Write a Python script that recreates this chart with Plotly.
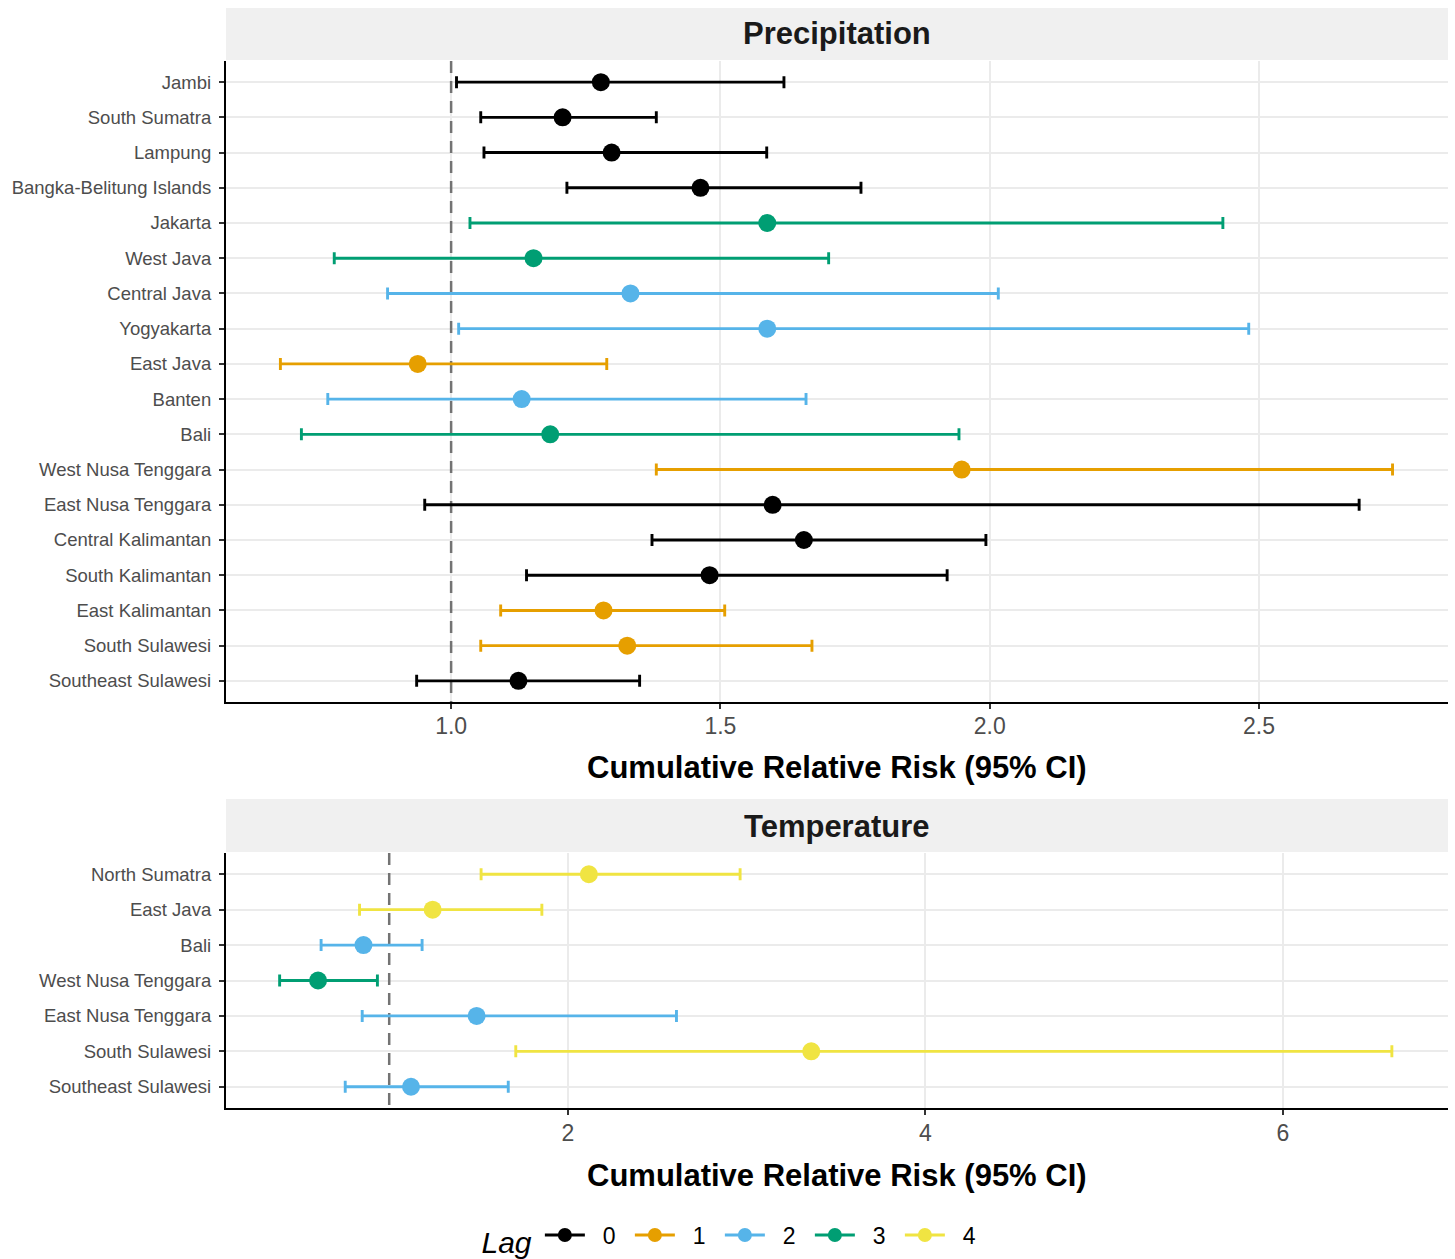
import plotly.graph_objects as go

# ---------------- data ----------------
prec_regions = ["Jambi", "South Sumatra", "Lampung", "Bangka-Belitung Islands", "Jakarta",
                "West Java", "Central Java", "Yogyakarta", "East Java", "Banten", "Bali",
                "West Nusa Tenggara", "East Nusa Tenggara", "Central Kalimantan",
                "South Kalimantan", "East Kalimantan", "South Sulawesi", "Southeast Sulawesi"]
prec_rr = [1.278, 1.207, 1.298, 1.463, 1.587, 1.153, 1.333, 1.587, 0.938, 1.131, 1.184,
           1.948, 1.597, 1.655, 1.480, 1.283, 1.327, 1.125]
prec_low = [1.010, 1.055, 1.061, 1.215, 1.035, 0.783, 0.882, 1.014, 0.683, 0.771, 0.722,
            1.381, 0.951, 1.373, 1.140, 1.092, 1.055, 0.936]
prec_high = [1.618, 1.381, 1.586, 1.761, 2.433, 1.701, 2.016, 2.481, 1.289, 1.659, 1.943,
             2.748, 2.686, 1.993, 1.921, 1.508, 1.670, 1.350]
prec_lag = [0, 0, 0, 0, 3, 3, 2, 2, 1, 2, 3, 1, 0, 0, 0, 1, 1, 0]

temp_regions = ["North Sumatra", "East Java", "Bali", "West Nusa Tenggara",
                "East Nusa Tenggara", "South Sulawesi", "Southeast Sulawesi"]
temp_rr = [2.117, 1.243, 0.856, 0.602, 1.489, 3.361, 1.122]
temp_low = [1.514, 0.834, 0.619, 0.387, 0.849, 1.708, 0.754]
temp_high = [2.963, 1.854, 1.184, 0.934, 2.607, 6.609, 1.666]
temp_lag = [4, 4, 2, 3, 2, 4, 2]

lags = [0, 1, 2, 3, 4]
lag_colors = ["#000000", "#E69F00", "#56B4E9", "#009E73", "#F0E442"]

prec_ticks = [1.0, 1.5, 2.0, 2.5]
temp_ticks = [2, 4, 6]

# ---------------- figure ----------------
W, H = 1455, 1259
ML, MR = 226, 7
FONT = "Liberation Sans, Arial, Helvetica, sans-serif"


def py(px):
    return 1 - px / H


def pxx(px):
    return (px - ML) / (W - ML - MR)


fig = go.Figure()


def add_panel(regions, rr, low, high, lag, xa, ya):
    for lg, col in zip(lags, lag_colors):
        idx = [i for i, v in enumerate(lag) if v == lg]
        if not idx:
            continue
        fig.add_trace(go.Scatter(
            x=[rr[i] for i in idx],
            y=[regions[i] for i in idx],
            mode="markers",
            marker=dict(color=col, size=18, line=dict(width=0)),
            error_x=dict(type="data", symmetric=False,
                         array=[high[i] - rr[i] for i in idx],
                         arrayminus=[rr[i] - low[i] for i in idx],
                         color=col, thickness=2.9, width=6),
            xaxis=xa, yaxis=ya, showlegend=False, hoverinfo="x+y",
        ))


add_panel(prec_regions, prec_rr, prec_low, prec_high, prec_lag, "x", "y")
add_panel(temp_regions, temp_rr, temp_low, temp_high, temp_lag, "x2", "y2")

# legend entries
for lg, col in zip(lags, lag_colors):
    fig.add_trace(go.Scatter(
        x=[None], y=[None], mode="lines+markers", name="\u00a0\u00a0" + str(lg),
        line=dict(color=col, width=2.9), marker=dict(color=col, size=14),
        xaxis="x", yaxis="y", showlegend=True,
    ))

axis_common = dict(
    showline=True, linecolor="black", linewidth=2.2,
    ticks="outside", ticklen=5, tickwidth=2, tickcolor="#333333",
    showgrid=True, gridcolor="#EBEBEB", gridwidth=1.6,
    zeroline=False, automargin=False,
)

top_dom = [py(702), py(61)]
bot_dom = [py(1108), py(853)]

fig.update_layout(
    width=W, height=H,
    margin=dict(l=ML, r=MR, t=0, b=0, autoexpand=False),
    paper_bgcolor="white", plot_bgcolor="white",
    font=dict(family=FONT),
    xaxis=dict(axis_common, domain=[0, 1], range=[0.582, 2.851],
               tickvals=prec_ticks, tickformat=".1f", anchor="y",
               ticklabelstandoff=-3,
               tickfont=dict(family=FONT, color="#4D4D4D", size=23)),
    yaxis=dict(axis_common, domain=top_dom, type="category",
               categoryorder="array", categoryarray=prec_regions,
               range=[len(prec_regions) - 0.4, -0.6], anchor="x",
               ticklabelstandoff=4,
               tickfont=dict(family=FONT, color="#4D4D4D", size=18.5)),
    xaxis2=dict(axis_common, domain=[0, 1], range=[0.087, 6.923],
                tickvals=temp_ticks, anchor="y2",
                ticklabelstandoff=-2,
                tickfont=dict(family=FONT, color="#4D4D4D", size=23)),
    yaxis2=dict(axis_common, domain=bot_dom, type="category",
                categoryorder="array", categoryarray=temp_regions,
                range=[len(temp_regions) - 0.4, -0.6], anchor="x2",
                ticklabelstandoff=4,
                tickfont=dict(family=FONT, color="#4D4D4D", size=18.5)),
    legend=dict(
        orientation="h", xref="paper", yref="paper",
        x=pxx(735), xanchor="center", y=py(1238), yanchor="middle",
        title=dict(text="Lag", side="left",
                   font=dict(family=FONT, size=30, color="black", style="italic")),
        font=dict(family=FONT, size=23, color="black"),
        itemwidth=40, entrywidth=35, bgcolor="rgba(0,0,0,0)",
    ),
    showlegend=True,
)

shapes = []
# strip backgrounds
for y0, y1 in [(8, 60), (799, 852)]:
    shapes.append(dict(type="rect", xref="paper", yref="paper", x0=0, x1=1,
                       y0=py(y1), y1=py(y0), fillcolor="#F0F0F0",
                       line=dict(width=0), layer="below"))
# reference lines at RR = 1
for xa, ya, n in [("x", "y", len(prec_regions)), ("x2", "y2", len(temp_regions))]:
    shapes.append(dict(type="line", xref=xa, yref=ya, x0=1, x1=1, y0=-0.6, y1=n - 0.4,
                       line=dict(color="#737373", width=2.5, dash="12px,8px"),
                       layer="between"))
fig.update_layout(shapes=shapes)

annotations = [
    dict(text="<b>Precipitation</b>", xref="paper", yref="paper", x=0.5, y=py(34),
         showarrow=False, font=dict(family=FONT, size=31, color="#1A1A1A"),
         xanchor="center", yanchor="middle"),
    dict(text="<b>Temperature</b>", xref="paper", yref="paper", x=0.5, y=py(826),
         showarrow=False, font=dict(family=FONT, size=31, color="#1A1A1A"),
         xanchor="center", yanchor="middle"),
    dict(text="<b>Cumulative Relative Risk (95% CI)</b>", xref="paper", yref="paper",
         x=0.5, y=py(767), showarrow=False,
         font=dict(family=FONT, size=31, color="black"),
         xanchor="center", yanchor="middle"),
    dict(text="<b>Cumulative Relative Risk (95% CI)</b>", xref="paper", yref="paper",
         x=0.5, y=py(1175), showarrow=False,
         font=dict(family=FONT, size=31, color="black"),
         xanchor="center", yanchor="middle"),
]
fig.update_layout(annotations=annotations)

fig.write_html("out.html", config={"displayModeBar": False},
               post_script="document.body.style.margin='0';")
